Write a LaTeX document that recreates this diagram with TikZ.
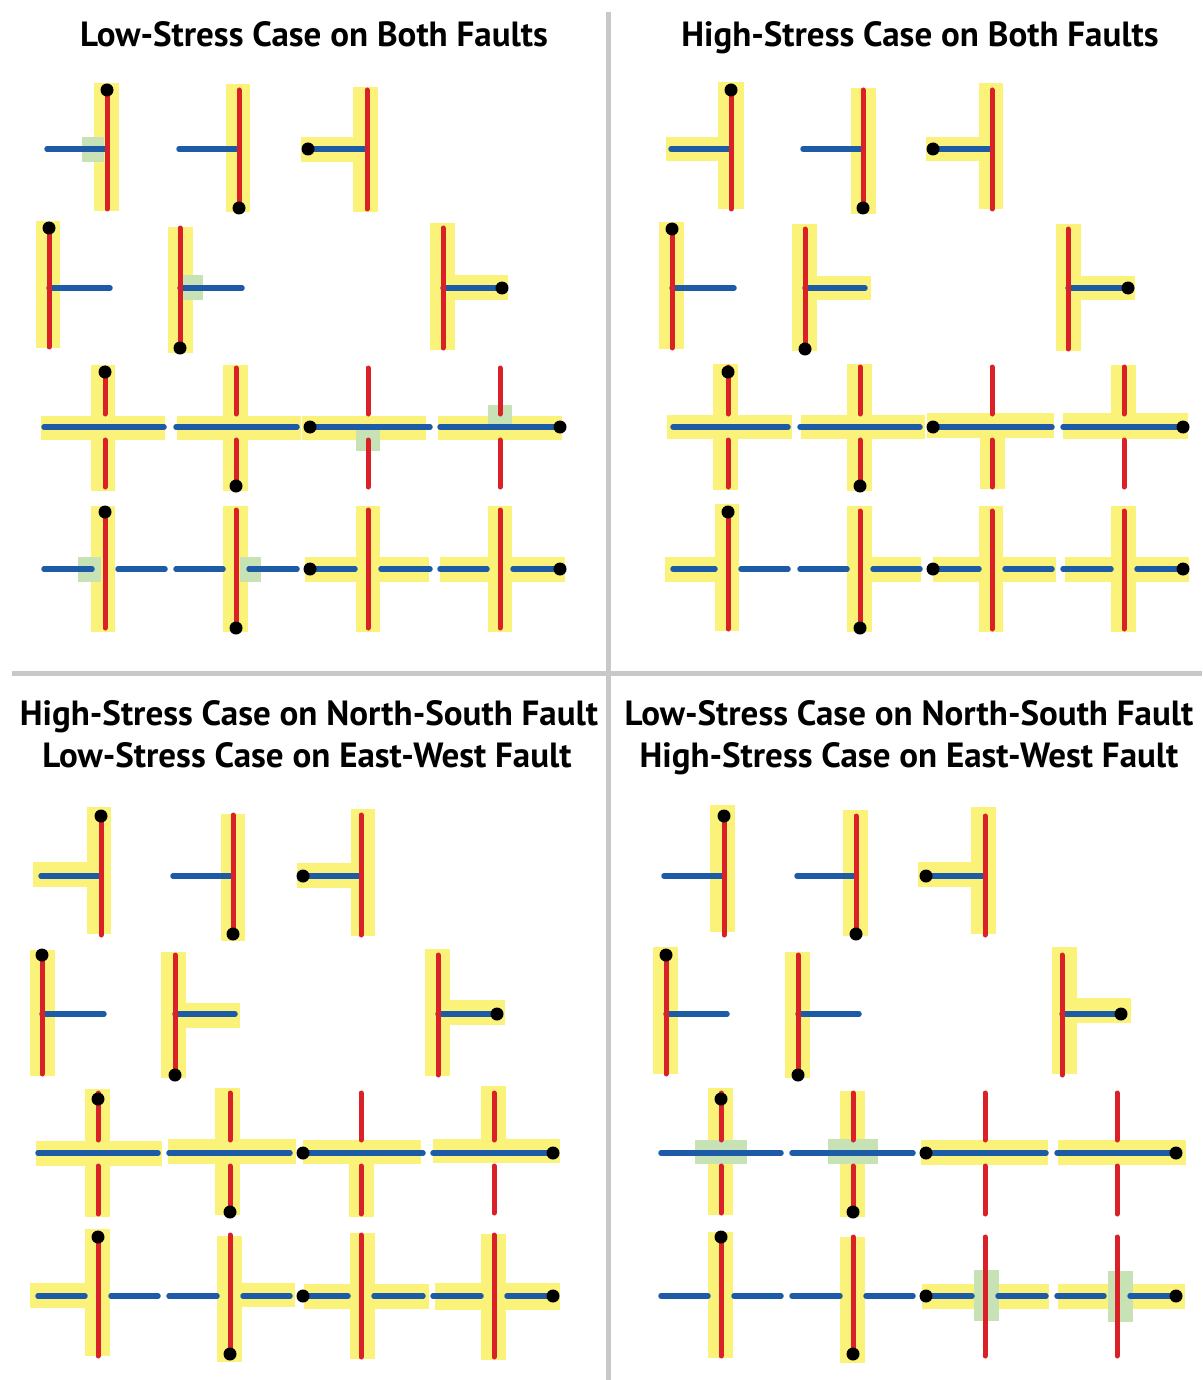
\documentclass[tikz,border=0pt]{standalone}
\usepackage{fontspec}
\setmainfont{PT Sans}
\usetikzlibrary{positioning}
\definecolor{nsred}{RGB}{218,33,40}
\definecolor{ewblue}{RGB}{29,91,166}
\definecolor{zoneyellow}{RGB}{251,242,122}
\definecolor{patchgreen}{RGB}{199,226,181}
\definecolor{rulegray}{RGB}{200,200,200}
\newcommand{\zone}[4]{\fill[zonefill] (#1,#2) rectangle (#3,#4);}
\newcommand{\patch}[4]{\fill[patchfill] (#1,#2) rectangle (#3,#4);}
\newcommand{\nsf}[3]{\draw[nsline] (#1,#2) -- (#1,#3);}
\newcommand{\ewf}[3]{\draw[ewline] (#2,#1) -- (#3,#1);}
\newcommand{\nsgap}[4]{\draw[nsline] (#1,#2) -- (#1,#3-13) (#1,#3+13) -- (#1,#4);}
\newcommand{\ewgap}[4]{\draw[ewline] (#2,#1) -- (#3-13,#1) (#3+13,#1) -- (#4,#1);}
\newcommand{\hypo}[2]{\fill[hypodot] (#1,#2) circle[radius=6.5];}

\begin{document}
\begin{tikzpicture}[x=1pt, y=-1pt,
    nsline/.style={line width=5pt, line cap=round, color=nsred},
    ewline/.style={line width=5.5pt, line cap=round, color=ewblue},
    zonefill/.style={fill=zoneyellow},
    patchfill/.style={fill=patchgreen},
    hypodot/.style={fill=black},
    divider/.style={line width=5pt, color=rulegray},
    heading/.style={font=\bfseries\fontsize{35}{40}\selectfont, anchor=base, inner sep=0pt}
]
\fill[white] (0,0) rectangle (1202,1380);
\useasboundingbox (0,0) rectangle (1202,1380);

\draw[divider] (608,12) -- (608,1380);
\draw[divider] (12,673) -- (1202,673);

\node[heading] (lowboth)  at (314,47)  {Low-Stress Case on Both Faults};
\node[heading] (highboth) at (920,47)  {High-Stress Case on Both Faults};
\node[heading] (highns)   at (309,725) {High-Stress Case on North-South Fault};
\node[heading] (lowew)    at (307,767) {Low-Stress Case on East-West Fault};
\node[heading] (lowns)    at (909,725) {Low-Stress Case on North-South Fault};
\node[heading] (highew)   at (909,767) {High-Stress Case on East-West Fault};

\zone{94}{83}{119}{211}\patch{82}{137}{104}{162}\ewf{149}{47}{107}\nsf{107}{90}{209}\hypo{107}{90}
\zone{226}{84}{250}{212}\ewf{149}{179}{239}\nsf{239}{90}{208}\hypo{239}{208}
\zone{353}{87}{378}{212}\zone{301}{137}{353}{162}\ewf{149}{308}{367}\nsf{367}{90}{209}\hypo{308}{149}
\zone{36}{221}{60}{348}\ewf{288}{49}{110}\nsf{49}{228}{347}\hypo{49}{228}
\zone{168}{227}{193}{353}\patch{183}{275}{203}{300}\ewf{288}{180}{242}\nsf{180}{228}{348}\hypo{180}{348}
\zone{430}{223}{455}{350}\zone{455}{275}{508}{300}\ewf{288}{443}{502}\nsf{443}{228}{348}\hypo{502}{288}
\zone{91}{365}{115}{491}\zone{41}{416}{165}{440}\ewf{427}{44}{164}\nsgap{105}{368}{427}{487}\hypo{105}{372}
\zone{223}{365}{248}{491}\zone{177}{416}{301}{440}\ewf{427}{176}{297}\nsgap{236}{368}{427}{486}\hypo{236}{486}
\zone{302}{416}{426}{440}\patch{356}{430}{380}{451}\ewf{427}{310}{430}\nsgap{368}{368}{427}{487}\hypo{310}{427}
\zone{438}{416}{562}{440}\patch{488}{405}{512}{425}\ewf{427}{440}{560}\nsgap{500}{368}{427}{487}\hypo{560}{427}
\zone{91}{506}{115}{632}\patch{78}{557}{101}{582}\ewgap{569}{44}{105}{165}\nsf{105}{511}{628}\hypo{105}{512}
\zone{223}{506}{248}{632}\patch{240}{557}{261}{582}\ewgap{569}{176}{236}{297}\nsf{236}{510}{628}\hypo{236}{628}
\zone{356}{506}{380}{632}\zone{305}{557}{429}{582}\ewgap{569}{310}{368}{430}\nsf{368}{510}{628}\hypo{310}{569}
\zone{488}{506}{512}{632}\zone{440}{557}{565}{582}\ewgap{569}{440}{500}{560}\nsf{500}{510}{628}\hypo{560}{569}

\zone{718}{82}{744}{209}\zone{666}{137}{718}{161}\ewf{149}{671}{731}\nsf{731}{90}{209}\hypo{731}{90}
\zone{851}{88}{876}{214}\ewf{149}{803}{863}\nsf{863}{90}{208}\hypo{863}{208}
\zone{979}{83}{1003}{209}\zone{926}{137}{979}{161}\ewf{149}{933}{992}\nsf{992}{90}{209}\hypo{933}{149}
\zone{659}{222}{684}{349}\ewf{288}{672}{734}\nsf{672}{229}{348}\hypo{672}{229}
\zone{792}{224}{817}{351}\zone{817}{276}{871}{300}\ewf{288}{805}{865}\nsf{805}{229}{349}\hypo{805}{349}
\zone{1056}{224}{1081}{351}\zone{1081}{276}{1135}{300}\ewf{288}{1068}{1128}\nsf{1068}{229}{349}\hypo{1128}{288}
\zone{713}{364}{738}{490}\zone{667}{415}{792}{439}\ewf{427}{673}{788}\nsgap{728}{367}{427}{487}\hypo{728}{372}
\zone{847}{364}{872}{491}\zone{801}{415}{925}{439}\ewf{427}{800}{920}\nsgap{860}{367}{427}{486}\hypo{860}{486}
\zone{927}{413}{1054}{438}\zone{980}{438}{1005}{489}\ewf{427}{933}{1052}\nsgap{992}{367}{427}{487}\hypo{933}{427}
\zone{1111}{365}{1136}{415}\zone{1063}{413}{1188}{439}\ewf{427}{1063}{1183}\nsgap{1124}{367}{427}{487}\hypo{1183}{427}
\zone{715}{504}{739}{631}\zone{665}{557}{715}{582}\ewgap{569}{673}{728}{788}\nsf{728}{511}{629}\hypo{728}{512}
\zone{847}{506}{872}{632}\zone{872}{557}{921}{582}\ewgap{569}{800}{860}{920}\nsf{860}{511}{628}\hypo{860}{628}
\zone{979}{506}{1003}{632}\zone{933}{557}{1056}{582}\ewgap{569}{933}{992}{1052}\nsf{992}{511}{629}\hypo{933}{569}
\zone{1111}{506}{1136}{632}\zone{1065}{557}{1189}{582}\ewgap{569}{1063}{1124}{1183}\nsf{1124}{511}{629}\hypo{1183}{569}

\zone{87}{807}{111}{934}\zone{33}{862}{87}{887}\ewf{876}{41}{101}\nsf{101}{816}{935}\hypo{101}{816}
\zone{221}{814}{245}{941}\ewf{876}{173}{233}\nsf{233}{815}{934}\hypo{233}{934}
\zone{351}{809}{375}{936}\zone{297}{863}{351}{888}\ewf{876}{303}{361}\nsf{361}{815}{935}\hypo{303}{876}
\zone{30}{950}{55}{1076}\ewf{1014}{42}{104}\nsf{42}{955}{1074}\hypo{42}{955}
\zone{161}{952}{186}{1078}\zone{186}{1003}{240}{1028}\ewf{1014}{175}{235}\nsf{175}{955}{1075}\hypo{175}{1075}
\zone{425}{949}{450}{1076}\zone{450}{1000}{505}{1025}\ewf{1014}{438}{497}\nsf{438}{955}{1075}\hypo{497}{1014}
\zone{85}{1089}{110}{1217}\zone{36}{1141}{162}{1166}\ewf{1153}{38}{158}\nsgap{98}{1093}{1153}{1214}\hypo{98}{1099}
\zone{215}{1088}{240}{1215}\zone{168}{1139}{296}{1164}\ewf{1153}{169}{290}\nsgap{230}{1093}{1153}{1212}\hypo{230}{1212}
\zone{303}{1140}{421}{1164}\zone{349}{1164}{374}{1217}\ewf{1153}{303}{423}\nsgap{361}{1093}{1153}{1214}\hypo{303}{1153}
\zone{481}{1086}{506}{1141}\zone{433}{1139}{560}{1163}\ewf{1153}{433}{553}\nsgap{494}{1093}{1153}{1213}\hypo{553}{1153}
\zone{85}{1229}{110}{1356}\zone{30}{1283}{85}{1308}\ewgap{1296}{38}{98}{158}\nsf{98}{1237}{1356}\hypo{98}{1237}
\zone{217}{1236}{242}{1362}\zone{242}{1283}{295}{1307}\ewgap{1296}{169}{230}{290}\nsf{230}{1235}{1354}\hypo{230}{1354}
\zone{350}{1233}{375}{1359}\zone{304}{1284}{429}{1309}\ewgap{1296}{303}{361}{423}\nsf{361}{1235}{1357}\hypo{303}{1296}
\zone{481}{1234}{506}{1360}\zone{435}{1283}{560}{1310}\ewgap{1296}{433}{494}{553}\nsf{494}{1235}{1357}\hypo{553}{1296}

\zone{710}{805}{735}{932}\ewf{876}{664}{724}\nsf{724}{816}{935}\hypo{724}{816}
\zone{843}{810}{868}{936}\ewf{876}{797}{856}\nsf{856}{816}{934}\hypo{856}{934}
\zone{971}{807}{996}{934}\zone{918}{862}{971}{887}\ewf{876}{926}{985}\nsf{985}{816}{935}\hypo{926}{876}
\zone{653}{947}{678}{1074}\ewf{1014}{666}{727}\nsf{666}{955}{1074}\hypo{666}{955}
\zone{785}{952}{810}{1078}\ewf{1014}{798}{859}\nsf{798}{955}{1075}\hypo{798}{1075}
\zone{1052}{947}{1077}{1074}\zone{1077}{998}{1131}{1023}\ewf{1014}{1062}{1121}\nsf{1062}{955}{1075}\hypo{1121}{1014}
\zone{708}{1088}{733}{1215}\patch{695}{1140}{747}{1164}\ewf{1153}{661}{781}\nsgap{721}{1093}{1153}{1213}\hypo{721}{1099}
\zone{840}{1091}{865}{1217}\patch{828}{1139}{878}{1164}\ewf{1153}{792}{913}\nsgap{853}{1093}{1153}{1212}\hypo{853}{1212}
\zone{921}{1140}{1048}{1165}\ewf{1153}{926}{1046}\nsgap{985}{1093}{1153}{1214}\hypo{926}{1153}
\zone{1058}{1140}{1186}{1165}\ewf{1153}{1057}{1176}\nsgap{1117}{1093}{1153}{1214}\hypo{1176}{1153}
\zone{708}{1232}{733}{1358}\ewgap{1296}{661}{721}{781}\nsf{721}{1237}{1356}\hypo{721}{1237}
\zone{840}{1237}{865}{1363}\ewgap{1296}{792}{853}{913}\nsf{853}{1237}{1354}\hypo{853}{1354}
\zone{922}{1284}{1049}{1309}\patch{974}{1270}{999}{1321}\ewgap{1296}{926}{985}{1046}\nsf{985}{1237}{1356}\hypo{926}{1296}
\zone{1058}{1284}{1185}{1309}\patch{1108}{1271}{1133}{1322}\ewgap{1296}{1057}{1117}{1176}\nsf{1117}{1237}{1356}\hypo{1176}{1296}
\end{tikzpicture}
\end{document}
